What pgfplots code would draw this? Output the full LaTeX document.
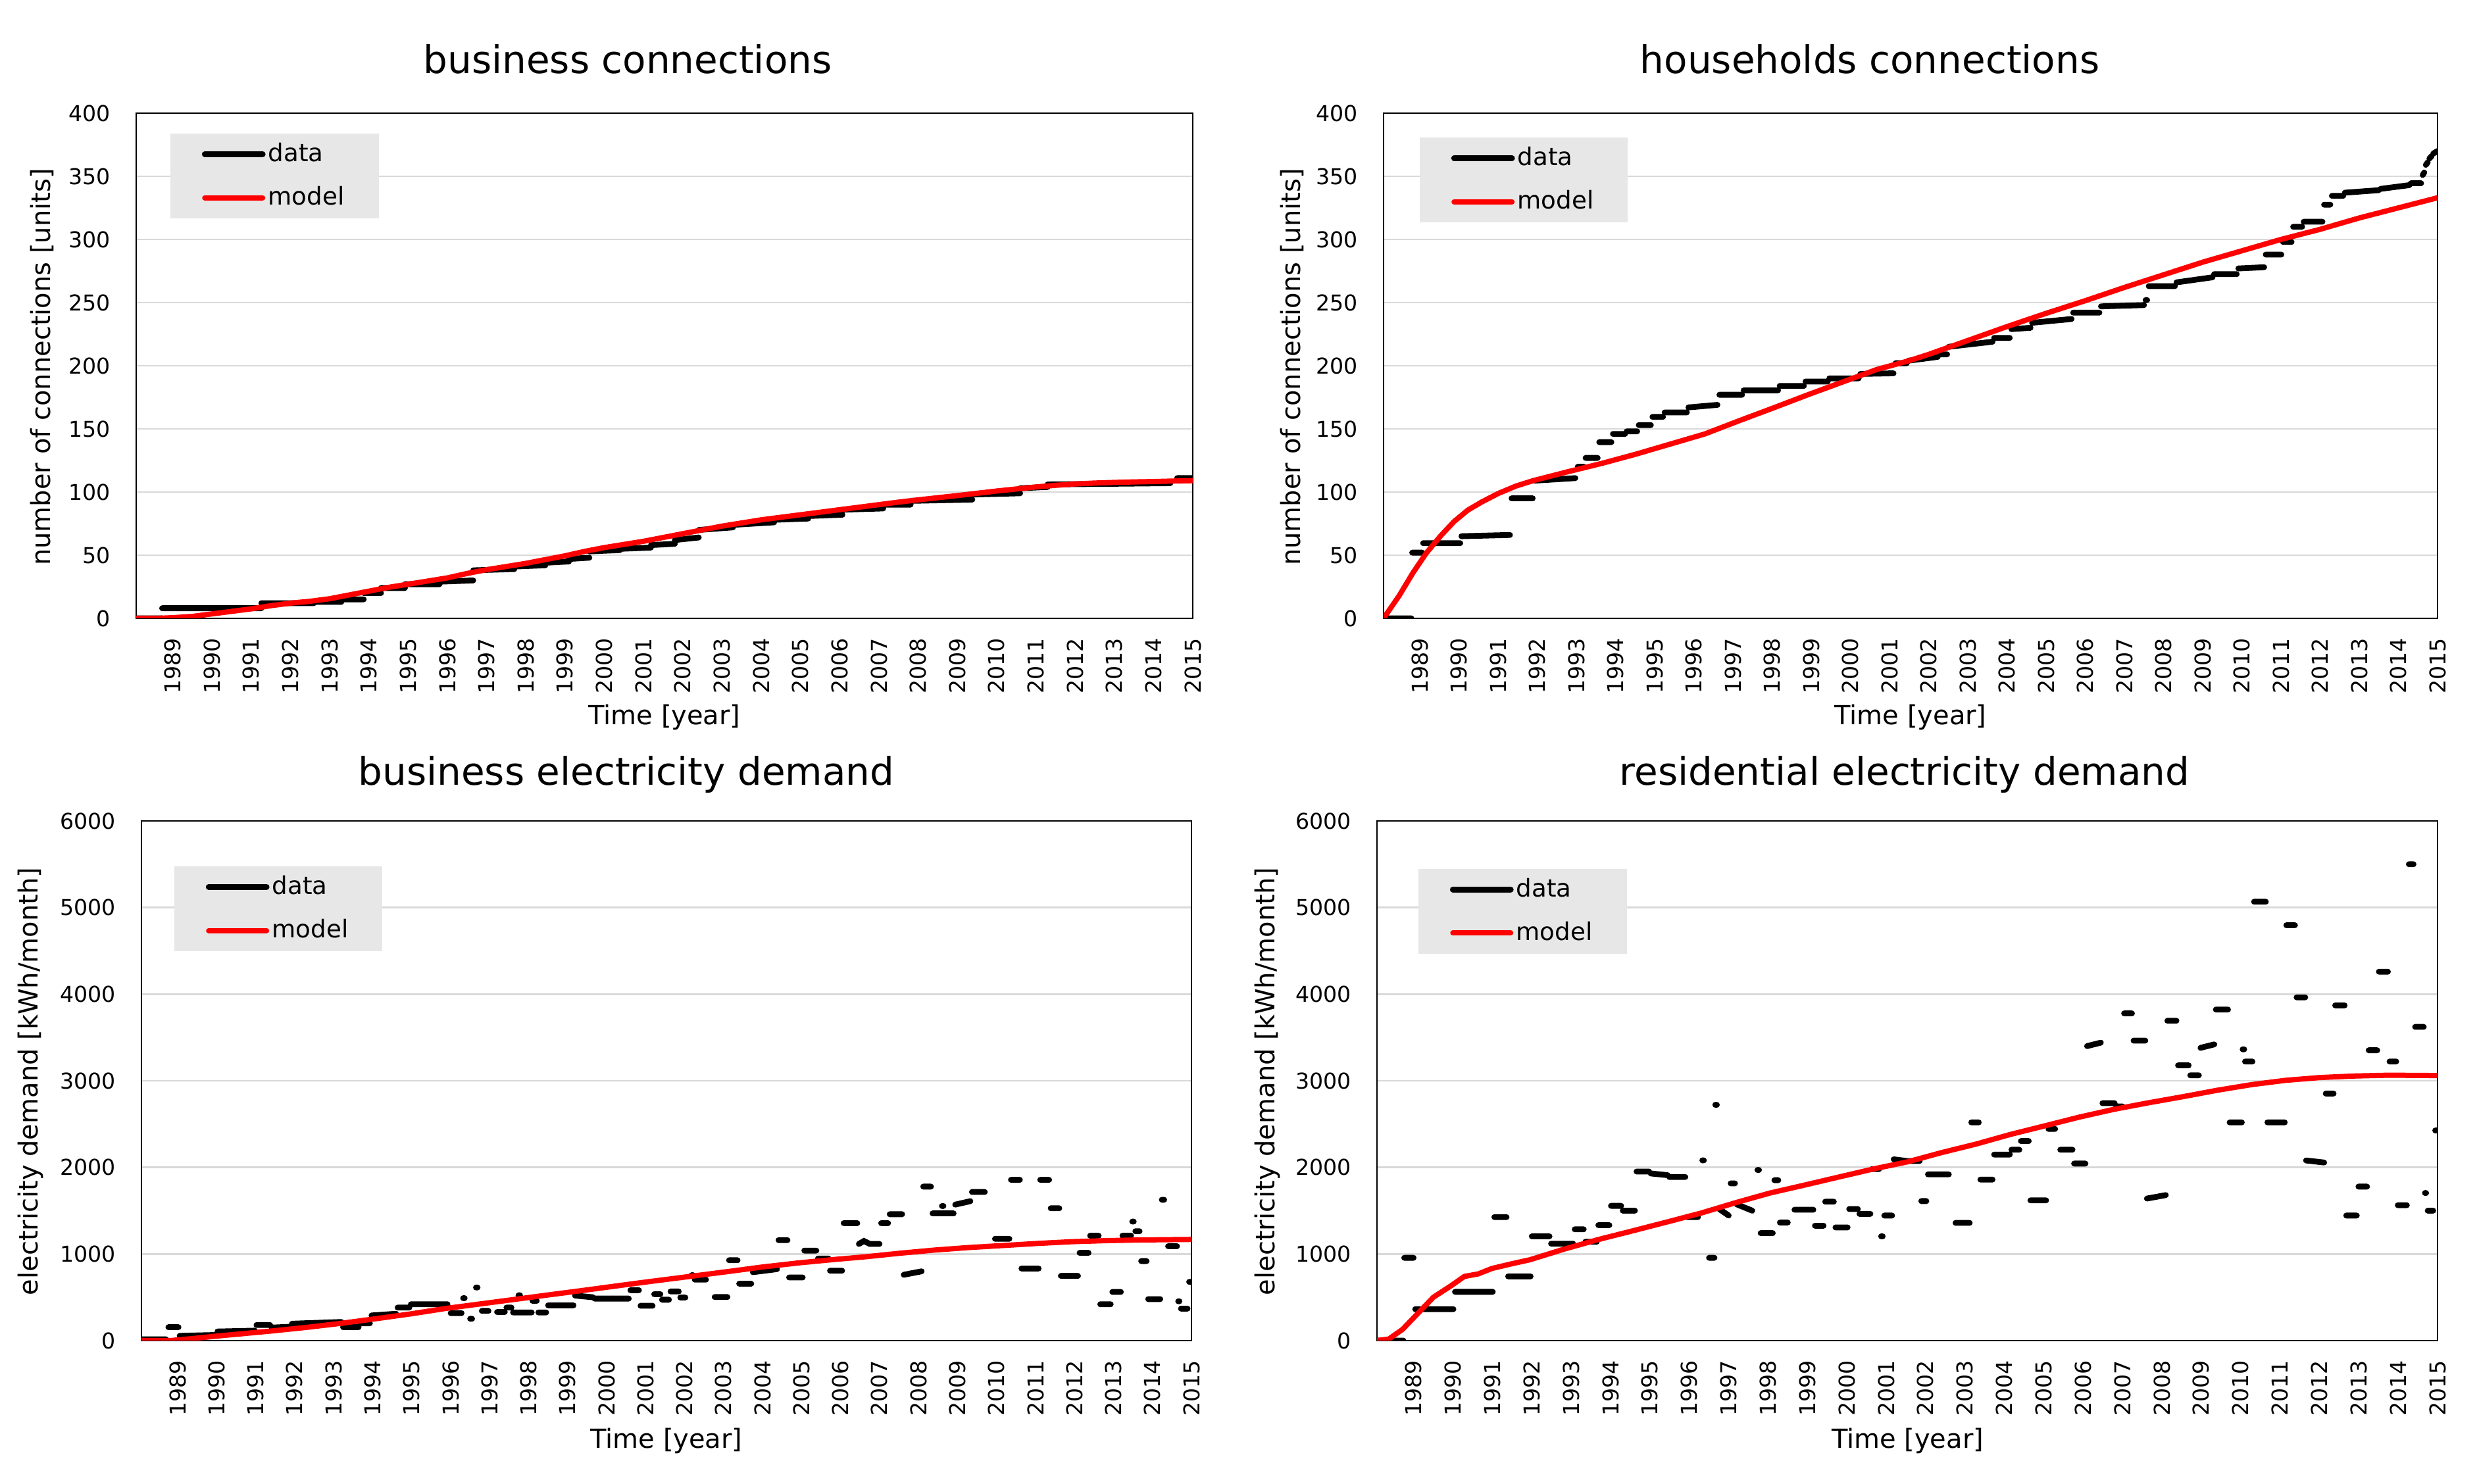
\documentclass[border=0pt]{standalone}
\usepackage{fontspec}
\setmainfont{DejaVu Sans}
\usepackage{pgfplots}
\pgfplotsset{compat=1.18}

\definecolor{gridgray}{RGB}{217,217,217}
\definecolor{legbg}{RGB}{231,231,231}

\pgfplotsset{
  panel/.style={
    scale only axis,
    xmin=1988.07, xmax=2015, ymin=0,
    xtick={1989,1990,...,2015},
    axis line style={line width=0.6pt},
    ymajorgrids, grid style={gridgray, line width=0.7pt},
    tick style={draw=none}, major tick length=0pt,
    /pgf/number format/assume math mode=true,
    /pgf/number format/1000 sep={},
    ticklabel style={font=\fontsize{8.3}{10}\selectfont},
    xticklabel style={rotate=90, anchor=east},
    xticklabel shift=4pt,
    yticklabel shift=6.2pt,
    unbounded coords=jump,
    legend cell align=left,
    legend image code/.code={\draw[##1, line cap=round] (0pt,0pt) -- (22pt,0pt);},
    legend style={anchor=north west, fill=legbg, draw=none,
      font=\fontsize{9.3}{11}\selectfont, inner xsep=12pt, inner ysep=2.6pt,
      row sep=6pt, nodes={inner sep=1pt, text depth=0.15em}},
  },
  datastyle/.style={black, line width=2.2pt, line cap=round},
  modelstyle/.style={red, line width=2pt, line join=round},
}

\begin{document}
\begin{tikzpicture}
\path[fill=white] (0pt,0pt) rectangle (941.25pt,564pt);

% ---------------- business connections ----------------
\begin{axis}[panel, at={(51.75pt,329pt)}, anchor=south west,
  width=401.5pt, height=192pt, ymax=400, ytick={0,50,...,400},
  legend style={at={(0.0318,0.961)}}]
\addplot[datastyle] coordinates {
(1988.07,0) (1988.73,0) (1988.73,nan)
(1988.73,8) (1991.26,8) (1991.26,nan)
(1991.26,12) (1992.6,12) (1992.6,nan)
(1992.6,13) (1993.3,13) (1993.3,nan)
(1993.3,15) (1993.87,15) (1993.87,nan)
(1993.87,20) (1994.31,20) (1994.31,nan)
(1994.31,24) (1994.92,24) (1994.92,nan)
(1994.92,27) (1995.8,27) (1995.8,nan)
(1995.8,29) (1996.66,30) (1996.66,nan)
(1996.66,38) (1997.71,39) (1997.71,nan)
(1997.71,41) (1998.5,42) (1998.5,nan)
(1998.5,44) (1999.1,45) (1999.1,nan)
(1999.1,47) (1999.62,48) (1999.62,nan)
(1999.62,53) (2000.4,54) (2000.4,nan)
(2000.4,55) (2001.19,56) (2001.19,nan)
(2001.19,58) (2001.8,59) (2001.8,nan)
(2001.8,62) (2002.41,64) (2002.41,nan)
(2002.41,70) (2003.28,72) (2003.28,nan)
(2003.28,74) (2004.33,76) (2004.33,nan)
(2004.33,78) (2005.2,79) (2005.2,nan)
(2005.2,81) (2006.07,82) (2006.07,nan)
(2006.07,86) (2007.11,87) (2007.11,nan)
(2007.11,90) (2007.81,90) (2007.81,nan)
(2007.81,93) (2009.38,94) (2009.38,nan)
(2009.38,98) (2010.6,99) (2010.6,nan)
(2010.6,103) (2011.3,104) (2011.3,nan)
(2011.3,106) (2014.43,107) (2014.43,nan)
(2014.6,111) (2015,111)
};
\addlegendentry{data}
\addplot[modelstyle] coordinates {
(1988.07,0) (1988.6,0) (1989.0,0.5) (1989.5,1.5) (1990,3.5) (1990.5,5.5)
(1991,7.5) (1991.5,10) (1992,12) (1992.5,13.5) (1993,15.5) (1993.5,18.5)
(1994,21.5) (1994.5,24.5) (1995,27) (1995.5,29.5) (1996,32) (1996.5,35.5)
(1997,38.5) (1997.5,41) (1998,43.5) (1998.5,46.5) (1999,49.5) (1999.5,53)
(2000,56) (2000.5,58.5) (2001,61) (2001.5,64) (2002,67) (2002.5,70)
(2003,73) (2003.5,75.5) (2004,78) (2004.5,80) (2005,82) (2005.5,84)
(2006,86) (2006.5,88) (2007,90) (2007.5,92) (2008,93.8) (2008.5,95.5)
(2009,97.2) (2009.5,99) (2010,100.8) (2010.5,102.4) (2011,104) (2011.5,105.3)
(2012,106.4) (2012.5,107.1) (2013,107.6) (2013.5,108) (2014,108.3)
(2014.5,108.7) (2015,109)
};
\addlegendentry{model}
\end{axis}

% ---------------- households connections ----------------
\begin{axis}[panel, at={(525.75pt,329pt)}, anchor=south west,
  width=400.5pt, height=192pt, ymax=400, ytick={0,50,...,400},
  legend style={at={(0.0337,0.953)}}]
\addplot[datastyle] coordinates {
(1988.07,0) (1988.78,0) (1988.78,nan)
(1988.8,52) (1989.06,52) (1989.06,nan)
(1989.08,59.5) (1990.03,59.5) (1990.03,nan)
(1990.06,65) (1991.3,66) (1991.3,nan)
(1991.34,95) (1991.88,95) (1991.88,nan)
(1991.92,109) (1992.97,111) (1992.97,nan)
(1993.03,120) (1993.19,120) (1993.19,nan)
(1993.23,127) (1993.54,127) (1993.54,nan)
(1993.58,139.5) (1993.89,139.5) (1993.89,nan)
(1993.93,146) (1994.24,146) (1994.24,nan)
(1994.28,148) (1994.55,148) (1994.55,nan)
(1994.59,153) (1994.9,153) (1994.9,nan)
(1994.94,159.5) (1995.21,159.5) (1995.21,nan)
(1995.25,163) (1995.82,163) (1995.82,nan)
(1995.86,167) (1996.6,169) (1996.6,nan)
(1996.65,177) (1997.23,177) (1997.23,nan)
(1997.27,180.5) (1998.15,180.5) (1998.15,nan)
(1998.19,184) (1998.81,184) (1998.81,nan)
(1998.85,187.5) (1999.42,187.5) (1999.42,nan)
(1999.46,190) (2000.21,190) (2000.21,nan)
(2000.25,193.5) (2001.1,194) (2001.1,nan)
(2001.15,202) (2001.44,202) (2001.44,nan)
(2001.48,204) (2002.23,207) (2002.23,nan)
(2002.27,209) (2002.47,209) (2002.47,nan)
(2002.51,215) (2003.63,219) (2003.63,nan)
(2003.67,222) (2004.07,222) (2004.07,nan)
(2004.11,229) (2004.6,230) (2004.6,nan)
(2004.64,234) (2005.65,237) (2005.65,nan)
(2005.69,242) (2006.36,242) (2006.36,nan)
(2006.4,247) (2007.5,248) (2007.5,nan)
(2007.54,252) (2007.58,252) (2007.58,nan)
(2007.62,263) (2008.29,263) (2008.29,nan)
(2008.33,266) (2009.25,270) (2009.25,nan)
(2009.29,272.5) (2009.87,272.5) (2009.87,nan)
(2009.91,277) (2010.57,278) (2010.57,nan)
(2010.61,288) (2011.01,288) (2011.01,nan)
(2011.05,298) (2011.27,298) (2011.27,nan)
(2011.31,310) (2011.54,310) (2011.54,nan)
(2011.58,314) (2012.06,314) (2012.06,nan)
(2012.1,327.5) (2012.26,327.5) (2012.26,nan)
(2012.3,334.5) (2012.59,334.5) (2012.59,nan)
(2012.63,337) (2013.5,339) (2013.5,nan)
(2013.54,340) (2014.28,343) (2014.28,nan)
(2014.32,344.5) (2014.58,344.5) (2014.58,nan)
(2014.62,351) (2014.66,353) (2014.66,nan)
(2014.7,359) (2014.75,361) (2014.75,nan)
(2014.79,364) (2014.85,366) (2014.85,nan)
(2014.89,368) (2015,370)
};
\addlegendentry{data}
\addplot[modelstyle] coordinates {
(1988.07,0) (1988.47,18) (1988.82,36) (1989.17,52) (1989.52,65)
(1989.87,76.6) (1990.22,85.6) (1990.57,92) (1991.01,99) (1991.45,104.7)
(1991.89,109) (1992.77,116) (1993.65,122.7) (1994.52,130) (1995.4,138)
(1996.28,146) (1997.16,156.5) (1998.04,166.7) (1998.91,177) (1999.79,187)
(2000.67,197) (2001.5,204) (2002,209) (2003,220) (2004,231) (2005,241.5)
(2006,251.5) (2007,262) (2008,272) (2009,282) (2010,291) (2011,300)
(2012,308) (2013,317) (2014,325) (2015,333)
};
\addlegendentry{model}
\end{axis}

% ---------------- business electricity demand ----------------
\begin{axis}[panel, at={(53.75pt,54.5pt)}, anchor=south west,
  width=399pt, height=197.5pt, ymax=6000, ytick={0,1000,...,6000},
  legend style={at={(0.0307,0.914)}}]
\addplot[datastyle] coordinates {
(1988.07,15) (1988.7,15) (1988.7,nan)
(1988.76,155) (1989.02,155) (1989.02,nan)
(1989.05,55) (1989.98,65) (1989.98,nan)
(1990.02,105) (1990.98,115) (1990.98,nan)
(1991.02,180) (1991.37,180) (1991.37,nan)
(1991.41,150) (1991.89,160) (1991.89,nan)
(1991.93,195) (1993.2,215) (1993.2,nan)
(1993.24,155) (1993.64,155) (1993.64,nan)
(1993.68,200) (1993.93,200) (1993.93,nan)
(1993.97,290) (1994.6,310) (1994.6,nan)
(1994.64,381) (1994.94,381) (1994.94,nan)
(1994.98,420) (1995.92,420) (1995.92,nan)
(1996.0,317) (1996.28,317) (1996.28,nan)
(1996.32,490) (1996.36,490) (1996.36,nan)
(1996.5,252) (1996.55,252) (1996.55,nan)
(1996.65,613) (1996.69,613) (1996.69,nan)
(1996.8,343) (1996.97,343) (1996.97,nan)
(1997.19,330) (1997.39,330) (1997.39,nan)
(1997.43,381) (1997.56,381) (1997.56,nan)
(1997.6,325) (1998.08,325) (1998.08,nan)
(1997.74,523) (1997.78,523) (1997.78,nan)
(1998.1,459) (1998.21,459) (1998.21,nan)
(1998.25,325) (1998.45,325) (1998.45,nan)
(1998.5,407) (1999.15,407) (1999.15,nan)
(1999.19,520) (1999.65,500) (1999.65,nan)
(1999.69,485) (2000.57,485) (2000.57,nan)
(2000.61,582) (2000.83,582) (2000.83,nan)
(2000.87,402) (2001.18,402) (2001.18,nan)
(2001.22,536) (2001.38,536) (2001.38,nan)
(2001.42,472) (2001.6,472) (2001.6,nan)
(2001.64,567) (2001.85,567) (2001.85,nan)
(2001.89,497) (2002.02,497) (2002.02,nan)
(2002.18,755) (2002.22,755) (2002.22,nan)
(2002.26,704) (2002.55,704) (2002.55,nan)
(2002.77,503) (2003.1,503) (2003.1,nan)
(2003.14,928) (2003.36,928) (2003.36,nan)
(2003.4,657) (2003.71,657) (2003.71,nan)
(2003.75,790) (2004.37,825) (2004.37,nan)
(2004.41,1160) (2004.64,1160) (2004.64,nan)
(2004.68,729) (2005.03,729) (2005.03,nan)
(2005.07,1039) (2005.38,1039) (2005.38,nan)
(2005.42,948) (2005.69,948) (2005.69,nan)
(2005.73,807) (2006.04,807) (2006.04,nan)
(2006.08,1356) (2006.43,1356) (2006.43,nan)
(2006.47,1116) (2006.6,1150) (2006.75,1116) (2007.0,1116) (2007.0,nan)
(2007.04,1356) (2007.22,1356) (2007.22,nan)
(2007.26,1459) (2007.58,1459) (2007.58,nan)
(2007.62,760) (2008.08,800) (2008.08,nan)
(2008.12,1778) (2008.32,1778) (2008.32,nan)
(2008.36,1469) (2008.9,1469) (2008.9,nan)
(2008.6,1554) (2008.64,1554) (2008.64,nan)
(2008.94,1570) (2009.33,1610) (2009.33,nan)
(2009.37,1716) (2009.7,1716) (2009.7,nan)
(2009.96,1175) (2010.33,1175) (2010.33,nan)
(2010.37,1856) (2010.6,1856) (2010.6,nan)
(2010.64,832) (2011.08,832) (2011.08,nan)
(2011.12,1856) (2011.35,1856) (2011.35,nan)
(2011.39,1528) (2011.61,1528) (2011.61,nan)
(2011.65,747) (2012.09,747) (2012.09,nan)
(2012.13,1013) (2012.36,1013) (2012.36,nan)
(2012.4,1211) (2012.62,1211) (2012.62,nan)
(2012.66,420) (2012.93,420) (2012.93,nan)
(2012.97,562) (2013.19,562) (2013.19,nan)
(2013.23,1211) (2013.45,1211) (2013.45,nan)
(2013.48,1374) (2013.52,1374) (2013.52,nan)
(2013.56,1263) (2013.67,1263) (2013.67,nan)
(2013.71,918) (2013.85,918) (2013.85,nan)
(2013.89,479) (2014.2,479) (2014.2,nan)
(2014.24,1626) (2014.3,1626) (2014.3,nan)
(2014.4,1090) (2014.63,1090) (2014.63,nan)
(2014.66,454) (2014.69,454) (2014.69,nan)
(2014.73,369) (2014.9,369) (2014.9,nan)
(2014.94,678) (2015,678)
};
\addlegendentry{data}
\addplot[modelstyle] coordinates {
(1988.07,0) (1988.8,0) (1989.3,20) (1990.0,52) (1990.6,77) (1991.5,115)
(1992.35,155) (1993.2,200) (1994.09,253) (1995.0,310) (1995.84,369)
(1996.7,420) (1997.58,472) (1998.45,524) (1999.32,575) (2000.2,628)
(2001.07,680) (2002.0,733) (2003.16,800) (2004.0,850) (2004.92,897)
(2005.8,935) (2006.67,969) (2007.55,1010) (2008.43,1046) (2009.3,1075)
(2010.18,1098) (2011.06,1122) (2011.94,1142) (2012.8,1154) (2013.69,1162)
(2015,1168)
};
\addlegendentry{model}
\end{axis}

% ---------------- residential electricity demand ----------------
\begin{axis}[panel, at={(523.25pt,54.5pt)}, anchor=south west,
  width=403pt, height=197.5pt, ymax=6000, ytick={0,1000,...,6000},
  legend style={at={(0.0385,0.909)}}]
\addplot[datastyle] coordinates {
(1988.07,0) (1988.74,0) (1988.74,nan)
(1988.76,956) (1989.0,956) (1989.0,nan)
(1989.04,363) (1990.01,363) (1990.01,nan)
(1990.05,563) (1991.01,563) (1991.01,nan)
(1991.05,1426) (1991.36,1426) (1991.36,nan)
(1991.4,741) (1991.97,741) (1991.97,nan)
(1992.0,1204) (1992.45,1204) (1992.45,nan)
(1992.49,1119) (1993.05,1119) (1993.05,nan)
(1993.09,1285) (1993.32,1285) (1993.32,nan)
(1993.36,1141) (1993.65,1141) (1993.65,nan)
(1993.69,1333) (1993.97,1333) (1993.97,nan)
(1994.01,1556) (1994.27,1556) (1994.27,nan)
(1994.31,1500) (1994.62,1500) (1994.62,nan)
(1994.66,1952) (1994.98,1952) (1994.98,nan)
(1995.02,1930) (1995.45,1910) (1995.45,nan)
(1995.49,1889) (1995.9,1889) (1995.9,nan)
(1995.94,1426) (1996.22,1426) (1996.22,nan)
(1996.33,2081) (1996.37,2081) (1996.37,nan)
(1996.5,956) (1996.64,956) (1996.64,nan)
(1996.66,2722) (1996.7,2722) (1996.7,nan)
(1996.76,1519) (1997.0,1444) (1997.0,nan)
(1997.05,1815) (1997.16,1815) (1997.16,nan)
(1997.2,1574) (1997.6,1500) (1997.6,nan)
(1997.73,1970) (1997.77,1970) (1997.77,nan)
(1997.81,1241) (1998.12,1241) (1998.12,nan)
(1998.16,1852) (1998.26,1852) (1998.26,nan)
(1998.3,1363) (1998.5,1363) (1998.5,nan)
(1998.67,1511) (1999.15,1511) (1999.15,nan)
(1999.19,1326) (1999.41,1326) (1999.41,nan)
(1999.45,1604) (1999.67,1604) (1999.67,nan)
(1999.71,1307) (2000.02,1307) (2000.02,nan)
(2000.06,1519) (2000.28,1519) (2000.28,nan)
(2000.32,1463) (2000.6,1463) (2000.6,nan)
(2000.64,1981) (2000.82,1981) (2000.82,nan)
(2000.87,1204) (2000.91,1204) (2000.91,nan)
(2000.95,1444) (2001.15,1444) (2001.15,nan)
(2001.19,2093) (2001.52,2074) (2001.52,nan)
(2001.56,2074) (2001.85,2074) (2001.85,nan)
(2001.89,1611) (2002.02,1611) (2002.02,nan)
(2002.06,1919) (2002.59,1919) (2002.59,nan)
(2002.76,1359) (2003.12,1359) (2003.12,nan)
(2003.16,2519) (2003.35,2519) (2003.35,nan)
(2003.39,1859) (2003.7,1859) (2003.7,nan)
(2003.74,2148) (2004.14,2148) (2004.14,nan)
(2004.18,2204) (2004.38,2204) (2004.38,nan)
(2004.42,2304) (2004.62,2304) (2004.62,nan)
(2004.66,1619) (2005.06,1619) (2005.06,nan)
(2005.12,2444) (2005.29,2444) (2005.29,nan)
(2005.42,2204) (2005.73,2204) (2005.73,nan)
(2005.77,2044) (2006.06,2044) (2006.06,nan)
(2006.1,3400) (2006.45,3440) (2006.45,nan)
(2006.49,2741) (2006.8,2741) (2006.8,nan)
(2006.84,2704) (2007.0,2704) (2007.0,nan)
(2007.04,3778) (2007.24,3778) (2007.24,nan)
(2007.28,3463) (2007.58,3463) (2007.58,nan)
(2007.62,1640) (2008.1,1680) (2008.1,nan)
(2008.14,3693) (2008.37,3693) (2008.37,nan)
(2008.41,3178) (2008.68,3178) (2008.68,nan)
(2008.72,3063) (2008.94,3063) (2008.94,nan)
(2008.98,3380) (2009.33,3420) (2009.33,nan)
(2009.37,3822) (2009.68,3822) (2009.68,nan)
(2009.72,2519) (2010.03,2519) (2010.03,nan)
(2010.05,3363) (2010.09,3363) (2010.09,nan)
(2010.11,3222) (2010.3,3222) (2010.3,nan)
(2010.34,5067) (2010.64,5067) (2010.64,nan)
(2010.68,2519) (2011.12,2519) (2011.12,nan)
(2011.16,4796) (2011.38,4796) (2011.38,nan)
(2011.42,3963) (2011.64,3963) (2011.64,nan)
(2011.66,2080) (2012.12,2056) (2012.12,nan)
(2012.16,2852) (2012.36,2852) (2012.36,nan)
(2012.4,3870) (2012.64,3870) (2012.64,nan)
(2012.68,1444) (2012.95,1444) (2012.95,nan)
(2012.99,1778) (2013.21,1778) (2013.21,nan)
(2013.25,3352) (2013.47,3352) (2013.47,nan)
(2013.51,4259) (2013.74,4259) (2013.74,nan)
(2013.78,3222) (2013.95,3222) (2013.95,nan)
(2013.99,1563) (2014.22,1563) (2014.22,nan)
(2014.27,5500) (2014.39,5500) (2014.39,nan)
(2014.43,3622) (2014.65,3622) (2014.65,nan)
(2014.68,1704) (2014.71,1704) (2014.71,nan)
(2014.75,1500) (2014.89,1500) (2014.89,nan)
(2014.94,2426) (2015,2426)
};
\addlegendentry{data}
\addplot[modelstyle] coordinates {
(1988.07,0) (1988.37,18) (1988.72,130) (1989.07,296) (1989.5,500)
(1989.94,630) (1990.29,741) (1990.64,770) (1990.99,833) (1991.51,889)
(1991.95,933) (1992.82,1056) (1993.69,1167) (1994.56,1267) (1995.44,1370)
(1996.31,1474) (1997.18,1593) (1998.05,1704) (1998.93,1796) (1999.8,1889)
(2000.67,1981) (2001.55,2065) (2002.4,2170) (2003.29,2270) (2004.15,2380)
(2005.03,2480) (2005.9,2580) (2006.78,2670) (2007.65,2745) (2008.52,2815)
(2009.4,2890) (2010.27,2955) (2011.14,3005) (2012.01,3037) (2012.9,3055)
(2013.76,3064) (2015,3060)
};
\addlegendentry{model}
\end{axis}

% titles
\node[font=\fontsize{14.5}{17}\selectfont, anchor=base] at (238.5pt,536pt) {business connections};
\node[font=\fontsize{14.5}{17}\selectfont, anchor=base] at (710.5pt,536pt) {households connections};
\node[font=\fontsize{14.5}{17}\selectfont, anchor=base] at (238pt,265.5pt) {business electricity demand};
\node[font=\fontsize{14.5}{17}\selectfont, anchor=base] at (723.75pt,265.5pt) {residential electricity demand};

% x labels
\node[font=\fontsize{10}{12}\selectfont] at (252.5pt,291.4pt) {Time [year]};
\node[font=\fontsize{10}{12}\selectfont] at (726pt,291.4pt) {Time [year]};
\node[font=\fontsize{10}{12}\selectfont] at (253.25pt,16.5pt) {Time [year]};
\node[font=\fontsize{10}{12}\selectfont] at (724.9pt,16.5pt) {Time [year]};

% y labels
\node[font=\fontsize{10}{12}\selectfont, rotate=90] at (16pt,424.5pt) {number of connections [units]};
\node[font=\fontsize{10}{12}\selectfont, rotate=90] at (491pt,424.5pt) {number of connections [units]};
\node[font=\fontsize{10}{12}\selectfont, rotate=90] at (11.6pt,153pt) {electricity demand [kWh/month]};
\node[font=\fontsize{10}{12}\selectfont, rotate=90] at (481.6pt,153pt) {electricity demand [kWh/month]};
\end{tikzpicture}
\end{document}
